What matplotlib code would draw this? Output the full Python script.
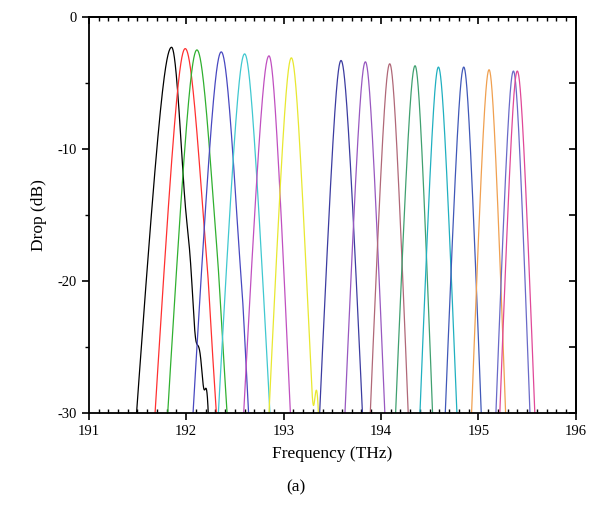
import numpy as np
import matplotlib
matplotlib.use('Agg')
import matplotlib.pyplot as plt
from matplotlib.ticker import MultipleLocator

plt.rcParams['font.family'] = ['Liberation Serif', 'DejaVu Serif']
plt.rcParams['axes.unicode_minus'] = False

# channel centre frequency (THz), peak drop (dB), half width at -30 dB (left, right)
centers = [191.85, 191.99, 192.11, 192.36, 192.60, 192.85, 193.08,
           193.59, 193.84, 194.09, 194.35, 194.59, 194.85, 195.11, 195.36, 195.40]
peaks = [-2.3, -2.4, -2.5, -2.65, -2.8, -2.95, -3.1,
         -3.3, -3.4, -3.55, -3.7, -3.8, -3.8, -4.0, -4.1, -4.1]
w_left = [0.36, 0.31, 0.30, 0.29, 0.27, 0.26, 0.23,
          0.22, 0.21, 0.20, 0.20, 0.19, 0.19, 0.18, 0.18, 0.18]
w_right = [0.24, 0.32, 0.31, 0.28, 0.26, 0.22, 0.22,
           0.22, 0.20, 0.19, 0.18, 0.19, 0.18, 0.17, 0.17, 0.18]
colors = ['black', '#ff3030', '#30b030', '#4848c0', '#40c8d0', '#c050c0', '#e8e830',
          '#3c3ca0', '#9858c0', '#b06878', '#40a070', '#20b0c0', '#4058b8', '#f0a050',
          '#6a6ac8', '#e04898']

# side lobes / shoulders seen near the floor: (channel, freq, level dB, width THz)
lobes = [(0, 192.02, -19.5, 0.05), (0, 192.13, -25.5, 0.05), (0, 192.21, -29.0, 0.03),
         (1, 192.21, -27.5, 0.03), (2, 192.32, -28.0, 0.03), (3, 192.57, -28.5, 0.03),
         (6, 193.34, -29.0, 0.03)]

fig = plt.figure(figsize=(5.96, 5.12), dpi=100)
ax = fig.add_axes([0.149, 0.193, 0.817, 0.774])

for i, (c, p, wl, wr, col) in enumerate(zip(centers, peaks, w_left, w_right, colors)):
    f = np.linspace(c - 1.3 * wl, c + 1.6 * wr, 800)
    d = f - c
    w = np.where(d < 0, wl, wr)
    g = 0.35 * w
    shape = (np.sqrt(1 + (d / g) ** 2) - 1) / (np.sqrt(1 + (w / g) ** 2) - 1)
    db = p - (30 + p) * shape
    lin = 10 ** (db / 10)
    for ch, lf, lv, lw_ in lobes:
        if ch == i:
            lin = lin + 10 ** (lv / 10) * np.exp(-((f - lf) / lw_) ** 2)
    ax.plot(f, 10 * np.log10(lin), color=col, lw=0.9)

ax.set_xlim(191, 196)
ax.set_ylim(-30, 0)
ax.xaxis.set_major_locator(MultipleLocator(1))
ax.xaxis.set_minor_locator(MultipleLocator(0.1))
ax.yaxis.set_major_locator(MultipleLocator(10))
ax.yaxis.set_minor_locator(MultipleLocator(5))
ax.tick_params(axis='both', which='major', direction='out', length=5, width=1.2,
               labelsize=10.5)
ax.tick_params(axis='x', which='minor', direction='in', length=3, width=1)
ax.tick_params(axis='y', which='minor', direction='out', length=3, width=1)

top = ax.secondary_xaxis('top')
top.xaxis.set_major_locator(MultipleLocator(1))
top.xaxis.set_minor_locator(MultipleLocator(0.1))
top.tick_params(which='major', direction='in', length=5, width=1.2, labeltop=False)
top.tick_params(which='minor', direction='in', length=3, width=1)
right = ax.secondary_yaxis('right')
right.yaxis.set_major_locator(MultipleLocator(5))
right.yaxis.set_minor_locator(MultipleLocator(5))
right.tick_params(which='major', direction='in', length=5, width=1.2, labelright=False)

for s in list(ax.spines.values()) + [top.spines['top'], right.spines['right']]:
    s.set_linewidth(1.3)

ax.set_xlabel('Frequency (THz)', fontsize=12.5, labelpad=6)
ax.set_ylabel('Drop (dB)', fontsize=12.5, labelpad=8)
fig.text(0.497, 0.04, '(a)', ha='center', fontsize=12.5)

fig.savefig('out.png', dpi=100)
